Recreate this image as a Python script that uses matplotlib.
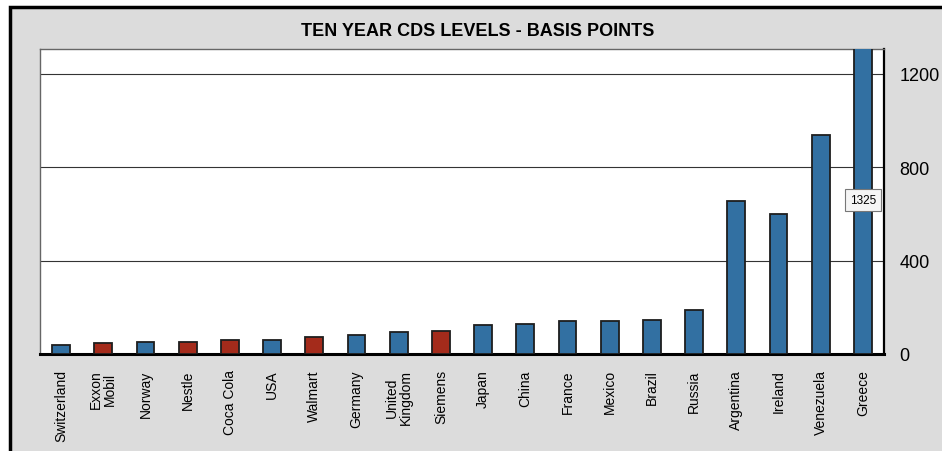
import matplotlib
matplotlib.use('Agg')
import matplotlib.pyplot as plt
from matplotlib.patches import Rectangle

plt.rcParams['font.family'] = ['Liberation Sans', 'DejaVu Sans']

# data
names = ['Switzerland', 'Exxon\nMobil', 'Norway', 'Nestle', 'Coca Cola', 'USA',
         'Walmart', 'Germany', 'United\nKingdom', 'Siemens', 'Japan', 'China',
         'France', 'Mexico', 'Brazil', 'Russia', 'Argentina', 'Ireland',
         'Venezuela', 'Greece']
cds = [40, 46, 53, 53, 58, 61, 71, 83, 94, 99, 124, 129, 141, 141, 147, 189,
       657, 601, 939, 1325]
is_corp = [False, True, False, True, True, False, True, False, False, True,
           False, False, False, False, False, False, False, False, False, False]
yticks = [0, 400, 800, 1200]

blue = '#3270a2'
red = '#a42b1b'
bg = '#dcdcdc'

fig = plt.figure(figsize=(9.42, 4.52), dpi=100, facecolor='white')
# grey panel with black frame on left/top
fig.patches.append(Rectangle((10/942, -0.1), 1.2, (452-8)/452 + 0.1,
                             transform=fig.transFigure, facecolor=bg,
                             edgecolor='black', linewidth=2.5, zorder=-5))

ax = fig.add_axes([40/942, 97/452, 844/942, 305/452])
ax.set_zorder(5)
ax.set_facecolor('white')

cols = [red if c else blue for c in is_corp]
x = list(range(len(names)))
ax.bar(x, cds, width=0.42, color=cols, edgecolor='#1e1e1e', linewidth=1.3, zorder=3)

ax.set_xlim(-0.5, len(names) - 0.5)
ax.set_ylim(0, 1307)
ax.set_yticks(yticks)
ax.yaxis.tick_right()
ax.tick_params(axis='y', length=0, pad=11, labelsize=13)
ax.set_xticks(x)
ax.set_xticklabels(names, rotation=90, fontsize=10, multialignment='center',
                   linespacing=1.0)
ax.tick_params(axis='x', length=0, pad=11)
ax.grid(axis='y', color='#333333', linewidth=0.8, zorder=1)

ax.spines['left'].set_color('#666666')
ax.spines['left'].set_linewidth(1.0)
ax.spines['top'].set_color('#666666')
ax.spines['top'].set_linewidth(1.0)
ax.spines['right'].set_color('black')
ax.spines['right'].set_linewidth(1.6)
ax.spines['bottom'].set_color('black')
ax.spines['bottom'].set_linewidth(2.2)

# label for the clipped Greece bar
ax.text(x[-1], 660, str(cds[-1]), ha='center', va='center', fontsize=8.5, zorder=5,
        bbox=dict(boxstyle='square,pad=0.4', facecolor='#f5f5f5', edgecolor='#777777',
                  linewidth=0.8))

fig.text(478/942, 1 - 32/452, 'TEN YEAR CDS LEVELS - BASIS POINTS',
         ha='center', va='center', fontsize=13, fontweight='bold')

fig.savefig('out.png', dpi=100, facecolor=fig.get_facecolor())
